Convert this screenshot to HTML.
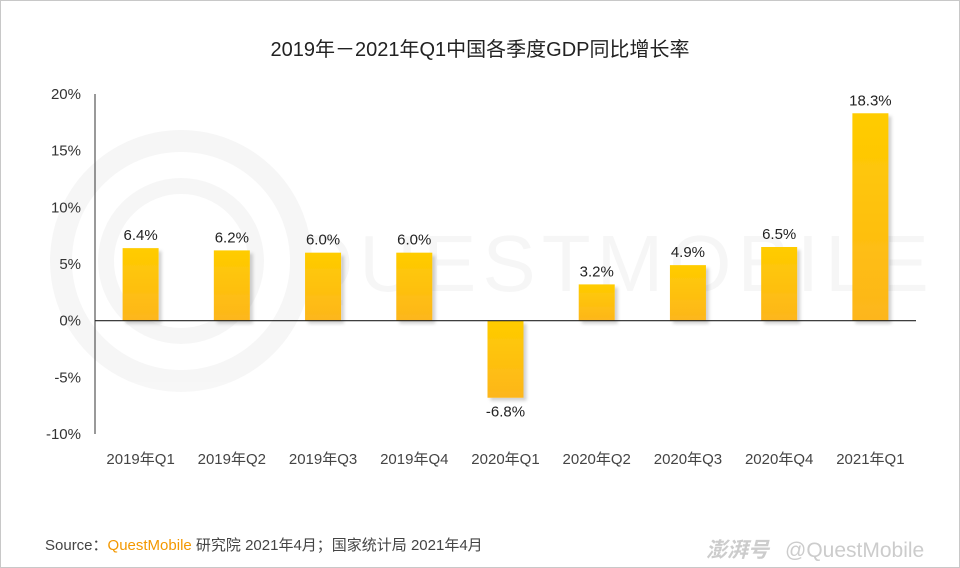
<!DOCTYPE html>
<html><head><meta charset="utf-8"><style>
body{margin:0;background:#fff}
#wrap{position:relative;width:958px;height:566px;border:1px solid #c8c8c8;background:#fff;overflow:hidden;font-family:"Liberation Sans","Noto Sans CJK SC",sans-serif}
</style></head><body>
<div id="wrap">
<svg id="chart" width="958" height="566">
<defs>
<linearGradient id="g" x1="0" y1="0" x2="0" y2="1"><stop offset="0" stop-color="#ffcc00"/><stop offset="1" stop-color="#fdb61c"/></linearGradient>
<filter id="sh" x="-20%" y="-10%" width="150%" height="130%"><feDropShadow dx="3" dy="3" stdDeviation="1.5" flood-color="#000" flood-opacity="0.18"/></filter>
</defs>
<g opacity="0.03">
<circle cx="180" cy="260" r="120" fill="none" stroke="#000" stroke-width="22"/>
<circle cx="180" cy="260" r="75" fill="none" stroke="#000" stroke-width="16"/>
<text x="290" y="290" font-size="80" fill="#000" font-family="Liberation Sans" letter-spacing="6">QUESTMOBILE</text>
</g>
<text x="479" y="55" text-anchor="middle" font-size="20" fill="#222">2019年－2021年Q1中国各季度GDP同比增长率</text>
<g id="plot"></g>
<text x="44" y="549" font-size="15" fill="#444">Source：<tspan fill="#f39800">QuestMobile</tspan> 研究院 2021年4月；国家统计局 2021年4月</text>
<text x="705" y="556" font-size="21" fill="#ccc" font-style="italic" font-weight="bold">澎湃号</text>
<text x="784" y="556" font-size="21" fill="#ccc">@QuestMobile</text>
</svg>
</div>
<script>
const categories=["2019年Q1","2019年Q2","2019年Q3","2019年Q4","2020年Q1","2020年Q2","2020年Q3","2020年Q4","2021年Q1"];
const values=[6.4,6.2,6.0,6.0,-6.8,3.2,4.9,6.5,18.3];
const valueLabels=["6.4%","6.2%","6.0%","6.0%","-6.8%","3.2%","4.9%","6.5%","18.3%"];
const ticks=[20,15,10,5,0,-5,-10];
const NS="http://www.w3.org/2000/svg";
const plot=document.getElementById('plot');
const x0=94,x1=915,yTop=93,yBot=433,vMax=20,vMin=-10;
const y=v=>yTop+(vMax-v)/(vMax-vMin)*(yBot-yTop);
const step=(x1-x0)/categories.length;
const xc=i=>x0+step*(i+0.5);
function mk(t,a){const e=document.createElementNS(NS,t);for(const k in a)e.setAttribute(k,a[k]);plot.appendChild(e);return e;}
let ax=mk('line',{x1:x0,x2:x0,y1:yTop,y2:yBot,stroke:'#333','stroke-width':1});


ticks.forEach(t=>{
  const tx=mk('text',{x:80,y:y(t)+5,'text-anchor':'end','font-size':15,fill:'#333'});
  tx.textContent=t+'%';
  
  
});
values.forEach((v,i)=>{
  const w=36,top=Math.min(y(v),y(0)),h=Math.abs(y(v)-y(0));
  const r=mk('rect',{x:xc(i)-w/2,y:top,width:w,height:h,fill:'url(#g)',filter:'url(#sh)'});
  
  
  const lb=mk('text',{x:xc(i),y:v>=0?y(v)-8:y(v)+19,'text-anchor':'middle','font-size':15,fill:'#222'});
  lb.textContent=valueLabels[i];
  
  
  const cl=mk('text',{x:xc(i),y:463,'text-anchor':'middle','font-size':15,fill:'#444'});
  cl.textContent=categories[i];
  
  
});
let zl=mk('line',{x1:x0,x2:x1,y1:y(0),y2:y(0),stroke:'#222','stroke-width':1.2});


</script>
</body></html>
